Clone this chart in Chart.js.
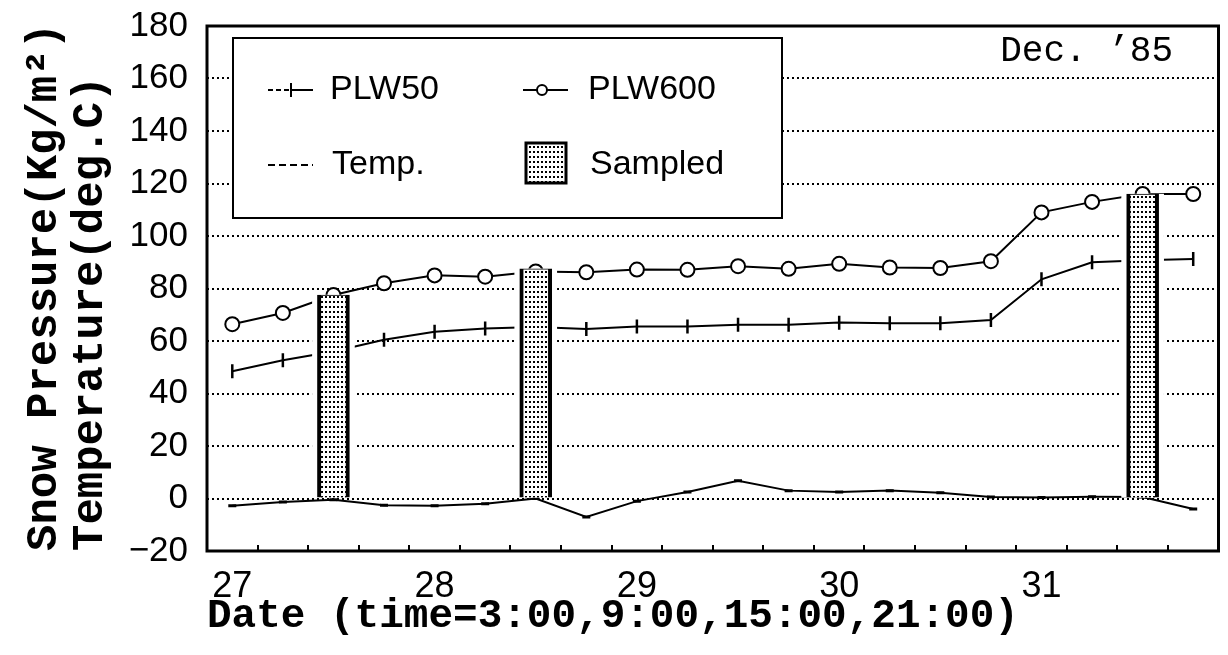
<!DOCTYPE html>
<html>
<head>
<meta charset="utf-8">
<title>Snow pressure, Dec. '85</title>
<script src="https://cdn.jsdelivr.net/npm/chart.js@4.4.1/dist/chart.umd.min.js"></script>
<style>
  html, body { margin: 0; padding: 0; background: #fff; }
  #wrap { width: 1228px; height: 655px; }
</style>
</head>
<body>
<div id="wrap"><canvas id="chart" width="1228" height="655"></canvas></div>
<script>
// hours counted from Dec 27 0:00, readings at 3:00, 9:00, 15:00, 21:00
const hours = [3, 9, 15, 21, 27, 33, 39, 45, 51, 57, 63, 69, 75, 81, 87, 93, 99, 105, 111, 117];
const plw50 = [48.5, 52.7, 56, 60.5, 63.5, 64.8, 65.3, 64.6, 65.5, 65.5, 66.2, 66.2, 67, 66.8, 66.8, 68, 83.5, 90, 90.8, 91.2];
const plw600 = [66.4, 70.7, 77.5, 82, 85, 84.5, 86.5, 86.2, 87.2, 87.1, 88.5, 87.5, 89.4, 88, 87.8, 90.4, 109, 113, 116, 116];
const temp = [-2.8, -1.3, -0.5, -2.6, -2.8, -2, 0, -7, -1, 2.5, 6.8, 3, 2.5, 3, 2.2, 0.6, 0.4, 0.7, 0.6, -4];

// sampling times and the load at that time
const sampledHours = [15, 39, 111];
const sampledValues = [77.5, 87.5, 116];

const dayLabels = ['27', '28', '29', '30', '31'];
const dayLabelHours = [3, 27, 51, 75, 99];
const tickHours = [6, 12, 18, 24, 30, 36, 42, 48, 54, 60, 66, 72, 78, 84, 90, 96, 102, 108, 114];

const xTitle = 'Date (time=3:00,9:00,15:00,21:00)';
const yTitle = ['Snow Pressure(Kg/m\u00b2)', 'Temperature(deg.C)'];
const note = 'Dec. \u201985';

const pts = (arr) => hours.map((h, i) => ({ x: h, y: arr[i] }));
const sampled = sampledHours.map((h, i) => ({ x: h, y: sampledValues[i] }));

const canvas = document.getElementById('chart');
const ctx0 = canvas.getContext('2d');

// dotted fill used for the sampled columns
const makeDots = () => {
    const c = document.createElement('canvas');
    c.width = 4; c.height = 5;
    const g = c.getContext('2d');
    g.fillStyle = '#fff';
    g.fillRect(0, 0, 4, 5);
    g.fillStyle = '#000';
    g.fillRect(1, 1, 2, 2);
    return ctx0.createPattern(c, 'repeat');
};
const dots = makeDots();

Chart.defaults.color = '#000';

const frameAndLegend = {
    id: 'frameAndLegend',
    afterDatasetsDraw(chart) {
        const { ctx, chartArea: a, scales: { x } } = chart;
        ctx.save();
        ctx.strokeStyle = '#000';
        ctx.fillStyle = '#000';

        // small inward ticks every 6 hours
        ctx.lineWidth = 2;
        tickHours.forEach(h => {
            const px = Math.round(x.getPixelForValue(h));
            ctx.beginPath();
            ctx.moveTo(px, a.bottom);
            ctx.lineTo(px, a.bottom - 6);
            ctx.stroke();
        });

        // plot frame
        ctx.lineWidth = 3;
        ctx.strokeRect(a.left, a.top, a.right - a.left, a.bottom - a.top);

        // month note
        ctx.font = '36px "Liberation Mono"';
        ctx.textAlign = 'right';
        ctx.textBaseline = 'middle';
        ctx.fillText(note, 1173, 51);

        // legend box
        const bx = 233, by = 38, bw = 549, bh = 180;
        ctx.fillStyle = '#fff';
        ctx.fillRect(bx, by, bw, bh);
        ctx.lineWidth = 2;
        ctx.strokeRect(bx, by, bw, bh);
        ctx.fillStyle = '#000';

        const r1 = 90, r2 = 165;
        ctx.lineWidth = 2;

        // PLW50
        ctx.setLineDash([5, 3]);
        ctx.beginPath();
        ctx.moveTo(268, r1); ctx.lineTo(290, r1);
        ctx.stroke();
        ctx.setLineDash([]);
        ctx.beginPath();
        ctx.moveTo(290, r1); ctx.lineTo(313, r1);
        ctx.moveTo(291, r1 - 7); ctx.lineTo(291, r1 + 7);
        ctx.stroke();

        // PLW600
        ctx.beginPath();
        ctx.moveTo(523, r1); ctx.lineTo(568, r1);
        ctx.stroke();
        ctx.beginPath();
        ctx.arc(542, r1, 5, 0, Math.PI * 2);
        ctx.fillStyle = '#fff';
        ctx.fill();
        ctx.stroke();
        ctx.fillStyle = '#000';

        // Temp.
        ctx.setLineDash([7, 4]);
        ctx.beginPath();
        ctx.moveTo(268, r2); ctx.lineTo(313, r2);
        ctx.stroke();
        ctx.setLineDash([]);

        // Sampled
        ctx.fillStyle = dots;
        ctx.fillRect(526, 143, 40, 40);
        ctx.lineWidth = 3;
        ctx.strokeRect(526, 143, 40, 40);
        ctx.fillStyle = '#000';

        ctx.font = '34px "Liberation Sans"';
        ctx.textAlign = 'left';
        ctx.fillText('PLW50', 330, r1);
        ctx.fillText('PLW600', 588, r1);
        ctx.fillText('Temp.', 332, r2);
        ctx.fillText('Sampled', 590, r2);
        ctx.restore();
    }
};

new Chart(canvas, {
    type: 'line',
    data: {
        datasets: [
            {
                type: 'bar',
                label: 'Sampled',
                data: sampled,
                backgroundColor: dots,
                borderColor: '#000',
                borderWidth: { left: 4, right: 4, top: 1, bottom: 0 },
                borderSkipped: false,
                barThickness: 32,
                grouped: false,
                order: 0
            },
            {
                // white margin round each column
                type: 'bar',
                label: 'gap',
                data: sampled,
                backgroundColor: '#fff',
                borderWidth: 0,
                barThickness: 42,
                grouped: false,
                order: 1
            },
            {
                label: 'PLW50',
                data: pts(plw50),
                borderColor: '#000',
                borderWidth: 2,
                pointStyle: 'line',
                rotation: 90,
                pointRadius: 7,
                pointBorderColor: '#000',
                pointBorderWidth: 2.5,
                order: 2
            },
            {
                label: 'PLW600',
                data: pts(plw600),
                borderColor: '#000',
                borderWidth: 2,
                pointStyle: 'circle',
                pointRadius: 7,
                pointBackgroundColor: '#fff',
                pointBorderColor: '#000',
                pointBorderWidth: 2,
                order: 3
            },
            {
                label: 'Temp.',
                data: pts(temp),
                borderColor: '#000',
                borderWidth: 2,
                pointStyle: 'line',
                pointRadius: 4,
                pointBorderColor: '#000',
                pointBorderWidth: 3,
                order: 4
            }
        ]
    },
    options: {
        responsive: false,
        animation: false,
        devicePixelRatio: 1,
        layout: { padding: { top: 26, right: 2, left: 0, bottom: 0 } },
        plugins: {
            legend: { display: false },
            tooltip: { enabled: false }
        },
        scales: {
            x: {
                type: 'linear',
                min: 0,
                max: 120,
                offset: false,
                grid: { display: false, drawTicks: false },
                border: { display: false },
                afterBuildTicks: (scale) => {
                    scale.ticks = dayLabelHours.map(v => ({ value: v }));
                },
                afterFit: (scale) => {
                    scale.height = 104;
                    scale.paddingLeft = 0;
                    scale.paddingRight = 0;
                },
                ticks: {
                    autoSkip: false,
                    maxRotation: 0,
                    padding: 14,
                    font: { family: 'Liberation Sans', size: 36 },
                    callback: (v, i) => dayLabels[i]
                },
                title: {
                    display: true,
                    text: xTitle,
                    align: 'start',
                    padding: { top: 0, bottom: 14 },
                    font: { family: 'Liberation Mono', size: 41, weight: 'bold', lineHeight: 1.2 }
                }
            },
            y: {
                min: -20,
                max: 180,
                grid: { color: '#000', lineWidth: 2, drawTicks: false },
                border: { display: false, dash: [2, 3] },
                afterFit: (scale) => {
                    scale.width = 207;
                    scale.paddingTop = 0;
                    scale.paddingBottom = 0;
                },
                ticks: {
                    stepSize: 20,
                    padding: 19,
                    font: { family: 'Liberation Sans', size: 35 },
                    callback: (v) => v < 0 ? '\u2212' + Math.abs(v) : String(v)
                },
                title: {
                    display: true,
                    text: yTitle,
                    align: 'start',
                    padding: { top: 22, bottom: 0 },
                    font: { family: 'Liberation Mono', size: 44, weight: 'bold', lineHeight: 1.05 }
                }
            }
        }
    },
    plugins: [frameAndLegend]
});
</script>
</body>
</html>
